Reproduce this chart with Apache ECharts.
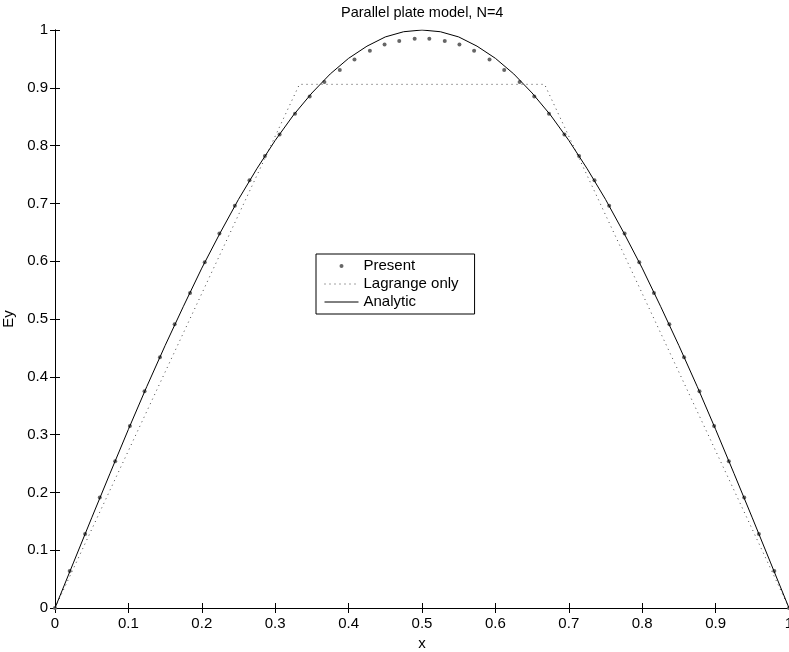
<!DOCTYPE html>
<html>
<head>
<meta charset="utf-8">
<script src="https://cdn.jsdelivr.net/npm/echarts@6/dist/echarts.min.js"></script>
<style>
	html, body { margin: 0; padding: 0; background: #fff; }
	#chart { width: 789px; height: 652px; }
</style>
</head>
<body>
<div id="chart"></div>
<script>
// Present: dots
var presentX = [0, 0.020, 0.041, 0.061, 0.082, 0.102, 0.122, 0.143, 0.163, 0.184,
	0.204, 0.224, 0.245, 0.265, 0.286, 0.306, 0.327, 0.347, 0.367, 0.388,
	0.408, 0.429, 0.449, 0.469, 0.490, 0.510, 0.531, 0.551, 0.571, 0.592,
	0.612, 0.633, 0.653, 0.673, 0.694, 0.714, 0.735, 0.755, 0.776, 0.796,
	0.816, 0.837, 0.857, 0.878, 0.898, 0.918, 0.939, 0.959, 0.980, 1.000];
var presentY = [0, 0.064, 0.128, 0.191, 0.254, 0.315, 0.375, 0.434, 0.491, 0.545,
	0.598, 0.648, 0.696, 0.740, 0.782, 0.819, 0.855, 0.885, 0.910, 0.931,
	0.949, 0.964, 0.975, 0.981, 0.985, 0.985, 0.981, 0.975, 0.964, 0.949,
	0.931, 0.910, 0.885, 0.855, 0.819, 0.782, 0.740, 0.696, 0.648, 0.598,
	0.545, 0.491, 0.434, 0.375, 0.315, 0.254, 0.191, 0.128, 0.064, 0];

// Lagrange only: dotted broken line
var lagrangeX = [0, 0.333, 0.667, 1];
var lagrangeY = [0, 0.906, 0.906, 0];

// Analytic: solid curve
var analyticX = [0, 0.025, 0.05, 0.075, 0.1, 0.125, 0.15, 0.175, 0.2, 0.225,
	0.25, 0.275, 0.3, 0.325, 0.35, 0.375, 0.4, 0.425, 0.45, 0.475,
	0.5, 0.525, 0.55, 0.575, 0.6, 0.625, 0.65, 0.675, 0.7, 0.725,
	0.75, 0.775, 0.8, 0.825, 0.85, 0.875, 0.9, 0.925, 0.95, 0.975, 1];
var analyticY = [0, 0.078, 0.156, 0.233, 0.309, 0.383, 0.454, 0.522, 0.588, 0.649,
	0.707, 0.760, 0.809, 0.853, 0.891, 0.924, 0.951, 0.972, 0.988, 0.997,
	1.000, 0.997, 0.988, 0.972, 0.951, 0.924, 0.891, 0.853, 0.809, 0.760,
	0.707, 0.649, 0.588, 0.522, 0.454, 0.383, 0.309, 0.233, 0.156, 0.078, 0];

var seriesNames = ['Present', 'Lagrange only', 'Analytic'];

function pairs(xs, ys) {
	return xs.map(function (x, i) { return [x, ys[i]]; });
}

var font = 'Liberation Sans';
var chart = echarts.init(document.getElementById('chart'));

var axisCommon = {
	type: 'value',
	min: 0,
	max: 1,
	interval: 0.1,
	axisLine: { show: true, lineStyle: { color: '#000', width: 1 } },
	axisTick: { show: true, inside: true, length: 5, lineStyle: { color: '#000' } },
	splitLine: { show: false }
};

var option = {
	animation: false,
	backgroundColor: '#fff',
	title: {
		text: 'Parallel plate model, N=4',
		left: 341,
		top: 5,
		padding: 0,
		textStyle: { fontFamily: font, fontSize: 14.5, fontWeight: 'normal', color: '#000' }
	},
	grid: { left: 55, right: 0, top: 30, bottom: 44, outerBoundsMode: 'none' },
	legend: {
		orient: 'vertical',
		left: 316,
		top: 254,
		padding: [4, 16, 4, 8],
		itemGap: 2,
		itemWidth: 34,
		itemHeight: 5,
		backgroundColor: '#fff',
		borderColor: '#000',
		borderWidth: 1,
		borderRadius: 0,
		textStyle: { fontFamily: font, fontSize: 15, color: '#000', lineHeight: 16 },
		data: [
			{ name: seriesNames[0], lineStyle: { opacity: 0 } },
			{ name: seriesNames[1], itemStyle: { opacity: 0 }, lineStyle: { width: 1 } },
			{ name: seriesNames[2], itemStyle: { opacity: 0 }, lineStyle: { width: 1 } }
		]
	},
	xAxis: [
		Object.assign({}, axisCommon, {
			position: 'bottom',
			name: 'x',
			nameLocation: 'middle',
			nameGap: 26,
			nameTextStyle: { fontFamily: font, fontSize: 15, color: '#000' },
			axisLabel: { margin: 8, fontFamily: font, fontSize: 15, color: '#000' }
		}),
		Object.assign({}, axisCommon, {
			position: 'top',
			axisLabel: { show: false }
		})
	],
	yAxis: [
		Object.assign({}, axisCommon, {
			position: 'left',
			name: 'Ey',
			nameLocation: 'middle',
			nameRotate: 90,
			nameGap: 36,
			nameTextStyle: { fontFamily: font, fontSize: 15, color: '#000' },
			axisLabel: { margin: 7, fontFamily: font, fontSize: 15, color: '#000' }
		}),
		Object.assign({}, axisCommon, {
			position: 'right',
			axisLabel: { show: false }
		})
	],
	series: [
		{
			name: seriesNames[0],
			type: 'line',
			data: pairs(presentX, presentY),
			symbol: 'circle',
			symbolSize: 4,
			showSymbol: true,
			itemStyle: { color: '#666' },
			lineStyle: { width: 0, opacity: 0 },
			z: 3
		},
		{
			name: seriesNames[1],
			type: 'line',
			data: pairs(lagrangeX, lagrangeY),
			symbol: 'none',
			itemStyle: { color: '#444' },
			lineStyle: { color: '#444', width: 1, type: [1, 4] },
			z: 2
		},
		{
			name: seriesNames[2],
			type: 'line',
			data: pairs(analyticX, analyticY),
			symbol: 'none',
			itemStyle: { color: '#000' },
			lineStyle: { color: '#000', width: 1 },
			z: 4
		}
	]
};

chart.setOption(option);
</script>
</body>
</html>
